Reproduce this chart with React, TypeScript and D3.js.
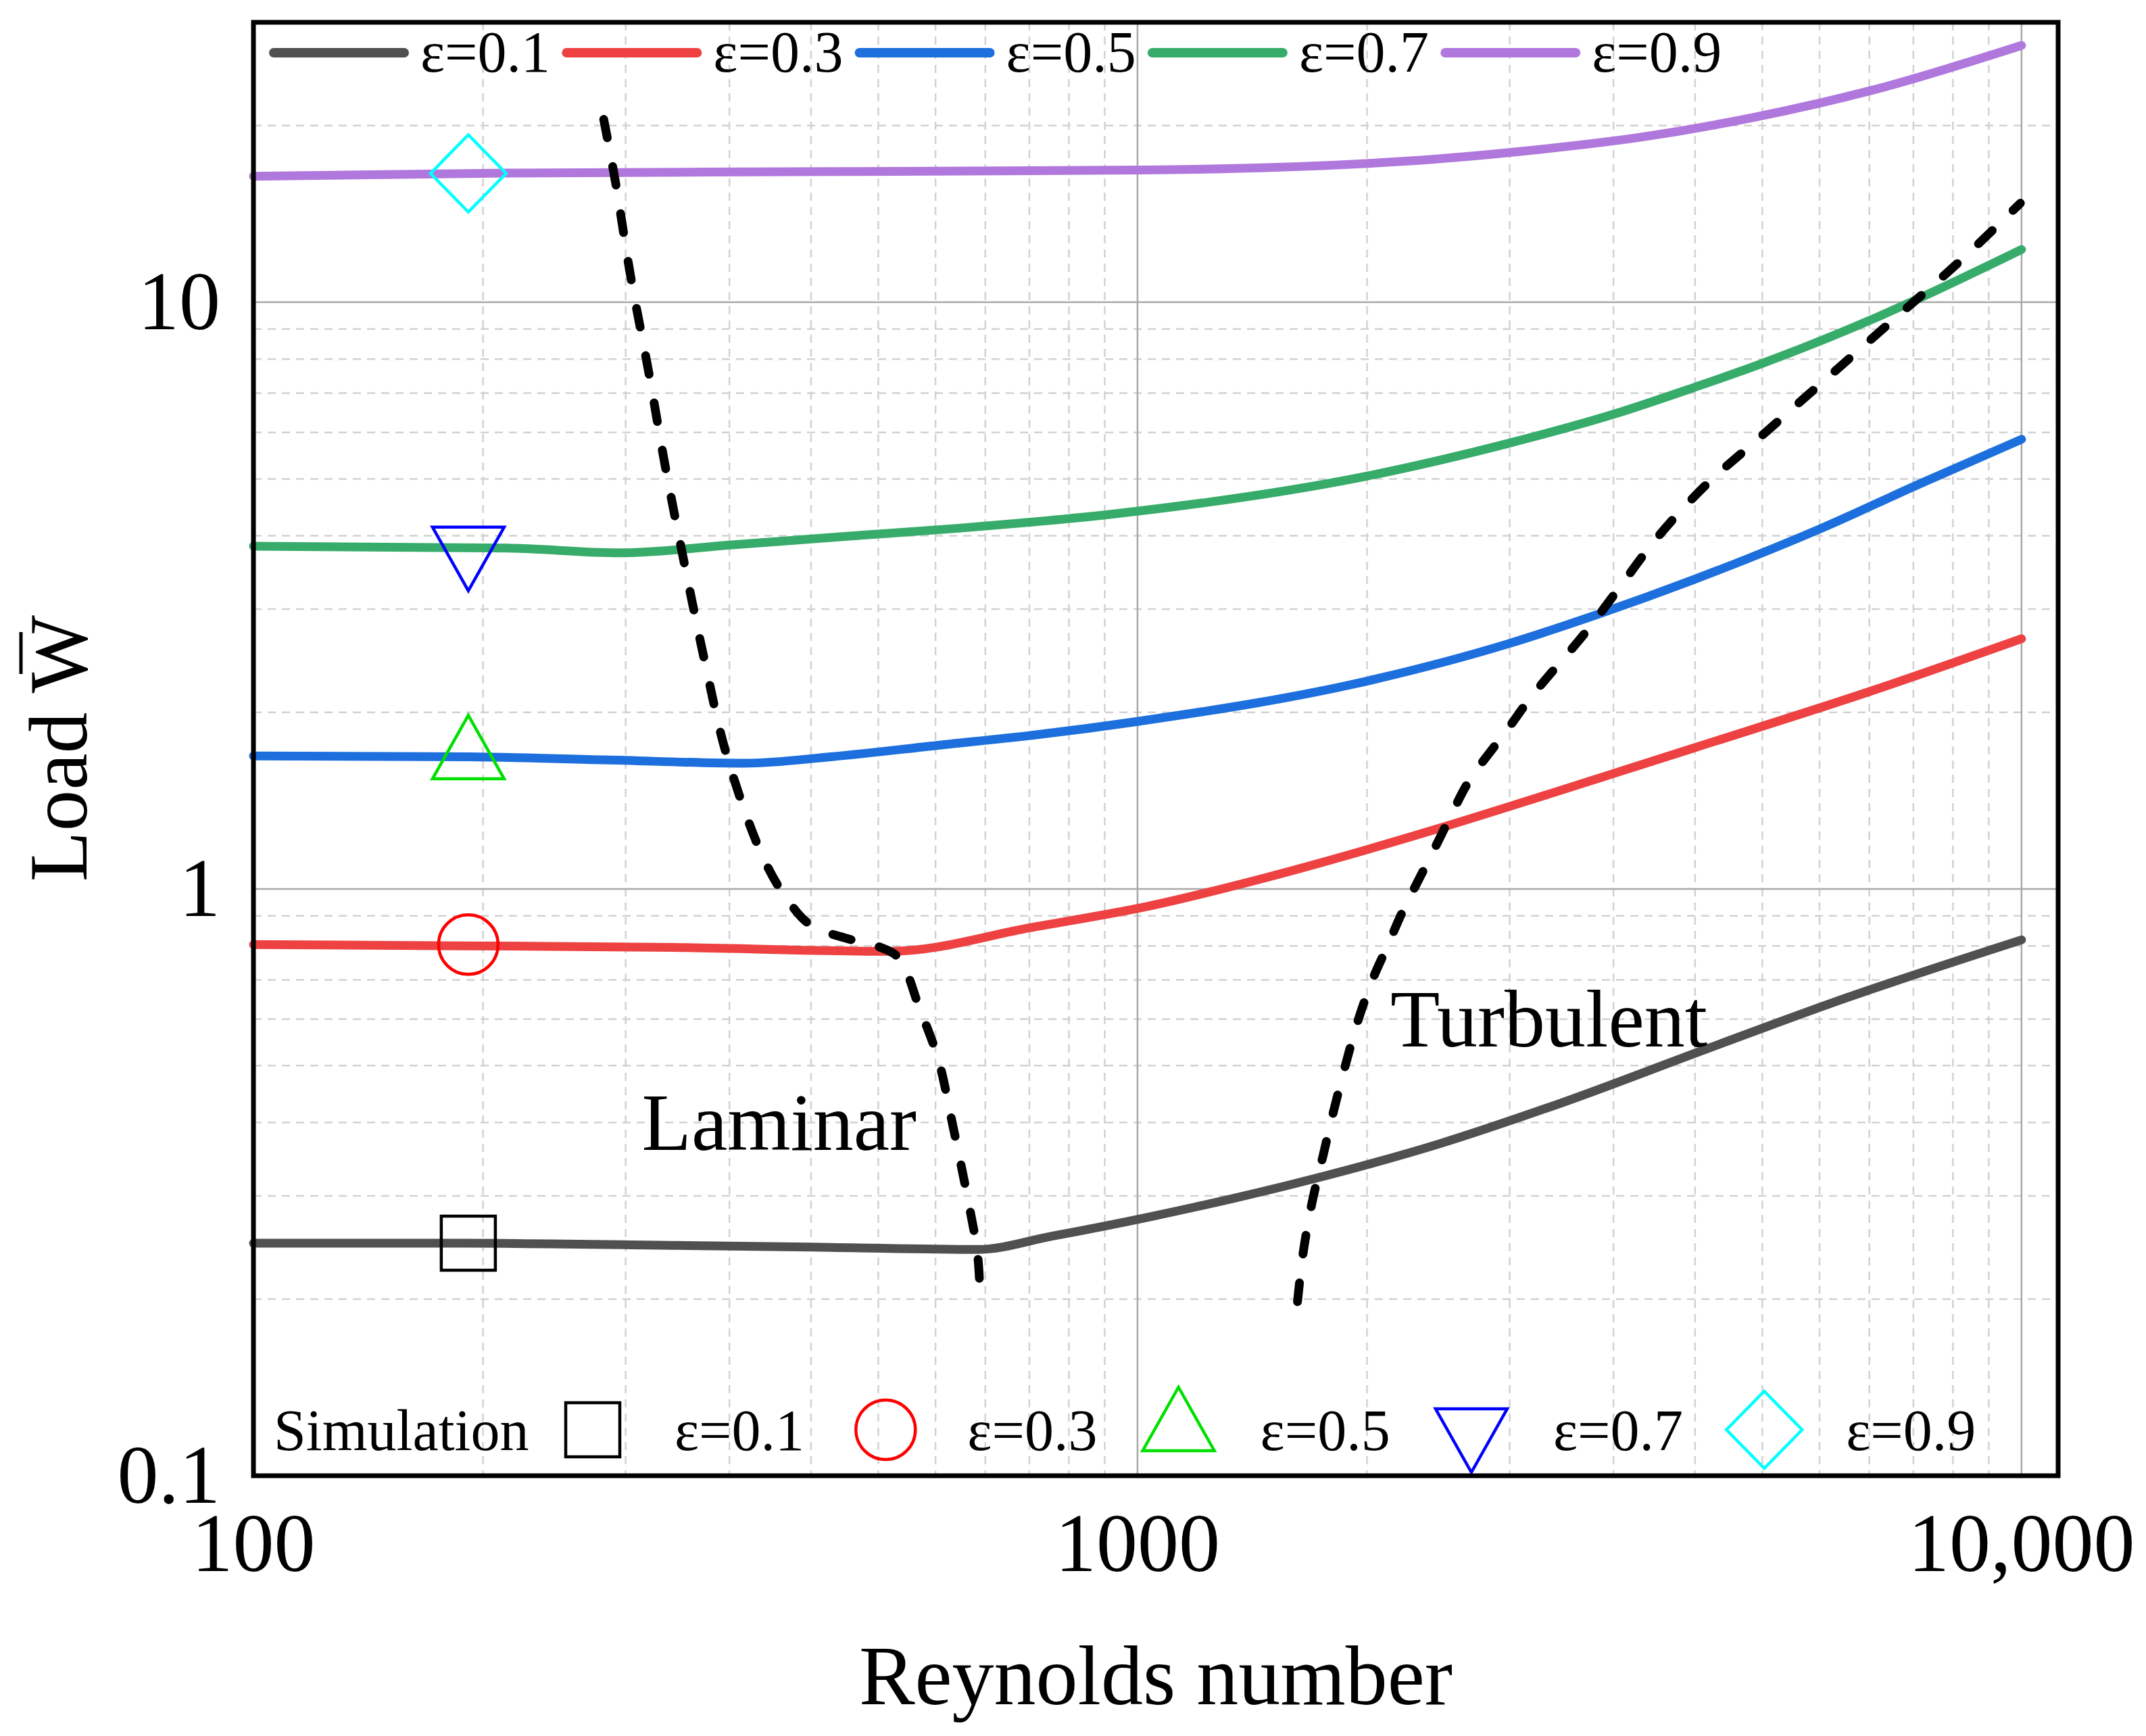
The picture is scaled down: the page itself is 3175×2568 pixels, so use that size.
import React from "react";
import * as d3 from "d3";

// overall canvas and plot box (pixels)
const WIDTH = 3175;
const HEIGHT = 2568;
const margin = { top: 33, right: 130, bottom: 385, left: 375 };

const reynoldsDomain = [100, 11000];
const loadDomain = [0.1, 30];

// tick labels
const xTickValues = [100, 1000, 10000];
const xTickLabels = ["100", "1000", "10,000"];
const yTickValues = [0.1, 1, 10];
const yTickLabels = ["0.1", "1", "10"];

const epsLabels = ["ε=0.1", "ε=0.3", "ε=0.5", "ε=0.7", "ε=0.9"];
const lineColors = ["#505050", "#ee4242", "#1c6fdd", "#37ac6a", "#b078dc"];

// eps = 0.1
const re01 = [100, 175, 300, 450, 659, 800, 1030, 1574, 2197, 2978, 4420, 6350, 10000];
const w01 = [0.249, 0.249, 0.247, 0.245, 0.243, 0.256, 0.276, 0.32, 0.368, 0.429, 0.535, 0.653, 0.819];
// eps = 0.3
const re03 = [100, 175, 300, 525, 765, 1030, 1395, 2197, 2978, 4264, 6730, 10000];
const w03 = [0.804, 0.8, 0.795, 0.783, 0.862, 0.935, 1.045, 1.27, 1.465, 1.74, 2.17, 2.67];
// eps = 0.5
const re05 = [100, 175, 250, 359, 450, 600, 765, 1000, 1824, 2618, 3319, 4264, 5940, 7640, 10000];
const w05 = [1.686, 1.68, 1.66, 1.638, 1.68, 1.76, 1.83, 1.93, 2.264, 2.614, 2.94, 3.37, 4.12, 4.89, 5.84];
// eps = 0.7
const re07 = [100, 194, 259, 348, 467, 628, 944, 1824, 2618, 3475, 4264, 5070, 6730, 7640, 10000];
const w07 = [3.84, 3.81, 3.74, 3.86, 3.99, 4.12, 4.36, 5.06, 5.74, 6.46, 7.16, 7.85, 9.31, 10.14, 12.3];
// eps = 0.9
const re09 = [100, 194, 467, 1004, 2018, 2735, 3699, 5012, 6790, 10000];
const w09 = [16.4, 16.6, 16.7, 16.8, 17.4, 18.1, 19.1, 20.7, 23.0, 27.4];

// laminar / turbulent boundaries (dashed)
const laminarRe = [249, 256.6, 267, 280, 292.5, 307.4, 324, 343, 377, 402, 427, 478, 509, 537, 567, 595, 618, 644, 659, 664];
const laminarW = [20.5, 16.1, 11.1, 7.59, 5.22, 3.57, 2.44, 1.69, 1.133, 0.958, 0.868, 0.817, 0.798, 0.763, 0.625, 0.513, 0.396, 0.292, 0.24, 0.201];
const turbulentRe = [1517, 1539, 1574, 1622, 1669, 1726, 1778, 1846, 1918, 1991, 2069, 2166, 2267, 2371, 2618, 2792, 3220, 3475, 3882, 4400, 5023, 5991, 7145, 8517, 9970];
const turbulentW = [0.198, 0.239, 0.29, 0.352, 0.422, 0.513, 0.6, 0.703, 0.8, 0.91, 1.021, 1.169, 1.343, 1.527, 1.866, 2.13, 2.75, 3.2, 3.99, 4.89, 5.83, 7.37, 9.31, 11.75, 14.75];

// simulation points
const simRe = [175, 175, 175, 175, 175];
const simW = [0.249, 0.804, 1.673, 3.81, 16.58];
const simShapes = ["square", "circle", "triangleUp", "triangleDown", "diamond"];
const simColors = ["#000000", "#ff0000", "#00e000", "#0000ff", "#00ffff"];

// region annotations
const regionLabels = ["Laminar", "Turbulent"];
const regionRe = [275, 1932];
const regionW = [0.359, 0.539];

const FONT = "'Liberation Serif', 'Times New Roman', serif";

const markerPath = (shape: string, cx: number, cy: number) => {
  const p = d3.path();
  if (shape === "square") {
    p.rect(cx - 40, cy - 40, 80, 80);
  } else if (shape === "circle") {
    p.moveTo(cx + 44, cy);
    p.arc(cx, cy, 44, 0, Math.PI * 2);
  } else if (shape === "triangleUp") {
    p.moveTo(cx, cy - 63);
    p.lineTo(cx + 53, cy + 31);
    p.lineTo(cx - 53, cy + 31);
    p.closePath();
  } else if (shape === "triangleDown") {
    p.moveTo(cx, cy + 63);
    p.lineTo(cx + 53, cy - 31);
    p.lineTo(cx - 53, cy - 31);
    p.closePath();
  } else {
    p.moveTo(cx, cy - 57);
    p.lineTo(cx + 56, cy);
    p.lineTo(cx, cy + 57);
    p.lineTo(cx - 56, cy);
    p.closePath();
  }
  return p.toString();
};

const App: React.FC = () => {
  const x0 = margin.left;
  const x1 = WIDTH - margin.right;
  const y0 = margin.top;
  const y1 = HEIGHT - margin.bottom;

  const x = d3.scaleLog().domain(reynoldsDomain).range([x0, x1]);
  const y = d3.scaleLog().domain(loadDomain).range([y1, y0]);

  // minor grid: x has 10 evenly spaced minor ticks per decade, y the usual 2..9
  const xMinor: number[] = [];
  [100, 1000].forEach((d) => {
    for (let k = 1; k <= 10; k++) xMinor.push(d + (9 * d * k) / 11);
  });
  const yMinor: number[] = [];
  [0.1, 1, 10].forEach((d) => {
    for (let m = 2; m <= 9; m++) if (d * m <= loadDomain[1]) yMinor.push(d * m);
  });

  const series = [
    { re: re01, w: w01 },
    { re: re03, w: w03 },
    { re: re05, w: w05 },
    { re: re07, w: w07 },
    { re: re09, w: w09 },
  ];

  const line = d3
    .line<[number, number]>()
    .x((d) => x(d[0]))
    .y((d) => y(d[1]))
    .curve(d3.curveMonotoneX);

  const dashLine = d3
    .line<[number, number]>()
    .x((d) => x(d[0]))
    .y((d) => y(d[1]))
    .curve(d3.curveCatmullRom.alpha(0.5));

  const zip = (a: number[], b: number[]) => a.map((v, i) => [v, b[i]] as [number, number]);

  const legendStep = 433.3;

  return (
    <svg
      width={WIDTH}
      height={HEIGHT}
      style={{ position: "absolute", left: 0, top: 0, background: "#fff" }}
      fontFamily={FONT}
    >
      <rect x={0} y={0} width={WIDTH} height={HEIGHT} fill="#fff" />
      {/* grid */}
      <g>
        {xMinor.map((v, i) => (
          <line key={"xm" + i} x1={x(v)} x2={x(v)} y1={y0} y2={y1} stroke="#d2d2d2" strokeWidth={2.5} strokeDasharray="12 9" />
        ))}
        {yMinor.map((v, i) => (
          <line key={"ym" + i} x1={x0} x2={x1} y1={y(v)} y2={y(v)} stroke="#d2d2d2" strokeWidth={2.5} strokeDasharray="12 9" />
        ))}
        {xTickValues.slice(1).map((v, i) => (
          <line key={"xM" + i} x1={x(v)} x2={x(v)} y1={y0} y2={y1} stroke="#a8a8a8" strokeWidth={2.5} />
        ))}
        {yTickValues.slice(1).map((v, i) => (
          <line key={"yM" + i} x1={x0} x2={x1} y1={y(v)} y2={y(v)} stroke="#a8a8a8" strokeWidth={2.5} />
        ))}
      </g>

      {/* model curves */}
      {series.map((s, i) => (
        <path key={"s" + i} d={line(zip(s.re, s.w)) ?? ""} fill="none" stroke={lineColors[i]} strokeWidth={13} strokeLinecap="round" />
      ))}

      {/* regime boundaries */}
      <path d={dashLine(zip(laminarRe, laminarW)) ?? ""} fill="none" stroke="#000" strokeWidth={13} strokeLinecap="round" strokeDasharray="28 43" />
      <path d={dashLine(zip(turbulentRe, turbulentW)) ?? ""} fill="none" stroke="#000" strokeWidth={13} strokeLinecap="round" strokeDasharray="28 43" />

      {/* simulation markers */}
      {simRe.map((r, i) => (
        <path key={"m" + i} d={markerPath(simShapes[i], x(r), y(simW[i]))} fill="none" stroke={simColors[i]} strokeWidth={4.5} />
      ))}

      {/* region labels */}
      {regionLabels.map((t, i) => (
        <text key={"r" + i} x={x(regionRe[i])} y={y(regionW[i])} fontSize={120} fill="#000">
          {t}
        </text>
      ))}

      {/* top legend */}
      {epsLabels.map((t, i) => (
        <g key={"lg" + i} transform={`translate(${405 + i * legendStep},0)`}>
          <line x1={0} x2={193} y1={78} y2={78} stroke={lineColors[i]} strokeWidth={14} strokeLinecap="round" />
          <text x={217} y={106} fontSize={86} fill="#000">
            {t}
          </text>
        </g>
      ))}

      {/* bottom legend */}
      <text x={405} y={2145} fontSize={86} fill="#000">
        Simulation
      </text>
      {epsLabels.map((t, i) => (
        <g key={"sl" + i} transform={`translate(${877 + i * legendStep},0)`}>
          <path d={markerPath(simShapes[i], 0, 2115)} fill="none" stroke={simColors[i]} strokeWidth={4.5} />
          <text x={121} y={2145} fontSize={86} fill="#000">
            {t}
          </text>
        </g>
      ))}

      {/* frame */}
      <rect x={x0} y={y0} width={x1 - x0} height={y1 - y0} fill="none" stroke="#000" strokeWidth={7} />

      {/* tick labels */}
      {xTickValues.map((v, i) => (
        <text key={"xt" + i} x={x(v)} y={2324} fontSize={122} textAnchor="middle" fill="#000">
          {xTickLabels[i]}
        </text>
      ))}
      {yTickValues.map((v, i) => (
        <text key={"yt" + i} x={326} y={y(v) + 40} fontSize={122} textAnchor="end" fill="#000">
          {yTickLabels[i]}
        </text>
      ))}

      {/* axis titles */}
      <text x={(x0 + x1) / 2} y={2521} fontSize={124} textAnchor="middle" fill="#000">
        Reynolds number
      </text>
      <text transform="translate(128,910) rotate(-90)" fontSize={122} textAnchor="end" fill="#000">
        Load W
      </text>
      <line x1={31} x2={31} y1={935} y2={997} stroke="#000" strokeWidth={5} />
    </svg>
  );
};

export default App;
